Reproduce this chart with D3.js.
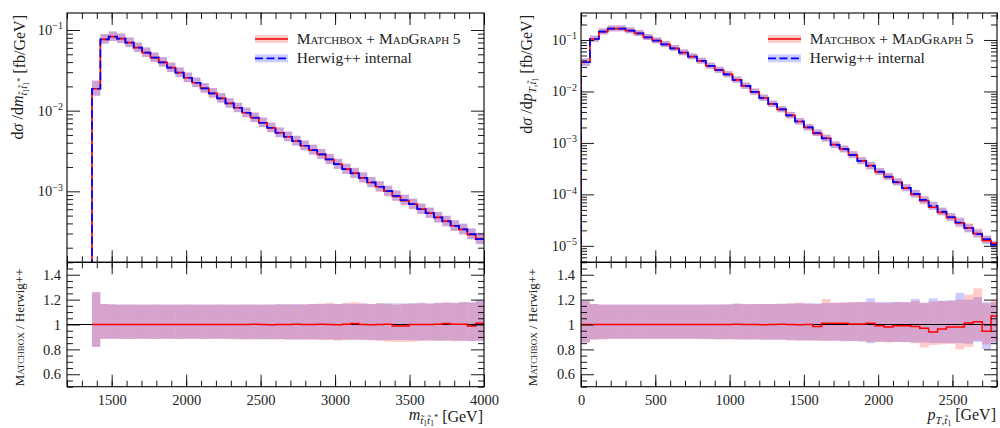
<!DOCTYPE html>
<html>
<head>
<meta charset="utf-8">
<script src="https://cdn.jsdelivr.net/npm/d3@7"></script>
<style>
body { margin: 0; background: #fff; }
text { font-family: "Liberation Serif", "DejaVu Serif", serif; fill: #222; }
</style>
</head>
<body>
<svg id="chart" width="1000" height="428"></svg>
<script>
// bin edges (GeV)
var leftEdges = [1368,1424,1480,1536,1592,1648,1704,1760,1816,1872,1928,1984,2040,2096,2152,2208,2264,2320,2376,2432,2488,2544,2600,2656,2712,2768,2824,2880,2936,2992,3048,3104,3160,3216,3272,3328,3384,3440,3496,3552,3608,3664,3720,3776,3832,3888,3944,4000];
var rightEdges = [0,60,120,180,240,300,360,420,480,540,600,660,720,780,840,900,960,1020,1080,1140,1200,1260,1320,1380,1440,1500,1560,1620,1680,1740,1800,1860,1920,1980,2040,2100,2160,2220,2280,2340,2400,2460,2520,2580,2640,2700,2760,2820];

// Herwig++ internal, dsigma/dm [fb/GeV]
var leftHerwig = [0.0187,0.0766,0.0826,0.0780,0.0696,0.0604,0.0524,0.0454,0.0397,0.0341,0.0296,0.0256,0.0222,0.0189,0.0164,0.0142,0.0123,0.01086,0.00942,0.00817,0.00708,0.00614,0.00532,0.00475,0.00420,0.00367,0.00325,0.00287,0.00249,0.00217,0.00188,0.00167,0.00147,0.00129,0.00114,0.001005,0.000879,0.000778,0.000694,0.000601,0.000537,0.000474,0.000423,0.000373,0.000337,0.000294,0.000256];
// Matchbox / Herwig++ ratio
var leftRatio = [1,1,1,1,1,1,1,1,1,1,1,1,1,1,1,1,1,1,1,1.002,1,0.998,1,1,1.002,1,1,1.003,1,0.998,1.002,1.008,1,0.997,1,1.003,0.987,0.987,1,1,1,1.002,1.008,1.003,1.003,0.987,1.01];
// uncertainty bands, in units of the Herwig++ value
var leftHwHi = [1.26,1.165,1.162,1.16,1.16,1.16,1.16,1.16,1.16,1.16,1.16,1.16,1.16,1.16,1.16,1.16,1.16,1.16,1.16,1.16,1.16,1.16,1.165,1.16,1.165,1.16,1.165,1.165,1.165,1.165,1.17,1.165,1.17,1.165,1.17,1.17,1.17,1.17,1.17,1.175,1.17,1.175,1.175,1.175,1.18,1.18,1.2];
var leftHwLo = [0.82,0.885,0.885,0.885,0.885,0.885,0.885,0.885,0.885,0.885,0.885,0.885,0.885,0.885,0.885,0.885,0.885,0.882,0.882,0.882,0.882,0.882,0.882,0.88,0.88,0.88,0.88,0.88,0.88,0.878,0.878,0.878,0.878,0.875,0.875,0.875,0.875,0.875,0.872,0.872,0.872,0.87,0.87,0.87,0.868,0.868,0.865];
var leftMgHi = [1.26,1.165,1.162,1.16,1.162,1.16,1.16,1.162,1.16,1.16,1.16,1.162,1.16,1.16,1.16,1.162,1.16,1.16,1.162,1.16,1.16,1.162,1.16,1.165,1.16,1.165,1.165,1.168,1.175,1.165,1.17,1.18,1.168,1.165,1.17,1.168,1.16,1.165,1.17,1.17,1.168,1.172,1.178,1.172,1.18,1.175,1.185];
var leftMgLo = [0.82,0.885,0.885,0.885,0.883,0.885,0.885,0.883,0.885,0.885,0.883,0.885,0.885,0.883,0.885,0.885,0.882,0.882,0.88,0.882,0.882,0.88,0.882,0.878,0.88,0.878,0.878,0.875,0.875,0.87,0.875,0.878,0.875,0.872,0.868,0.862,0.86,0.86,0.862,0.868,0.87,0.868,0.872,0.865,0.87,0.865,0.87];

// Herwig++ internal, dsigma/dpT [fb/GeV]
var rightHerwig = [0.0369,0.1045,0.1449,0.1656,0.166,0.1517,0.1349,0.1127,0.0969,0.0825,0.0690,0.0567,0.0474,0.0391,0.0313,0.0261,0.0214,0.0167,0.0128,0.00977,0.00748,0.00571,0.00447,0.00342,0.00261,0.00200,0.00156,0.00122,0.000914,0.000755,0.000585,0.000447,0.000357,0.000277,0.000222,0.000173,0.000134,0.000102,7.82e-5,5.98e-5,4.63e-5,3.61e-5,2.84e-5,2.21e-5,1.69e-5,1.35e-5,1.045e-5];
var rightRatio = [1,1,1,1,1,1,1,1,1,1,1,1,1,1,1,1,1,1.002,1,1,0.998,1,1.002,1,0.998,1,0.984,1.011,1.011,1.011,1.005,1.005,1.01,0.99,0.98,0.99,0.99,0.984,0.97,0.94,0.963,0.98,0.98,1.012,1.022,0.945,1.068];
var rightHwHi = [1.19,1.165,1.16,1.16,1.16,1.16,1.16,1.16,1.16,1.16,1.16,1.16,1.16,1.16,1.16,1.162,1.162,1.165,1.165,1.165,1.165,1.165,1.168,1.168,1.17,1.17,1.17,1.172,1.175,1.175,1.178,1.18,1.21,1.18,1.182,1.182,1.18,1.207,1.175,1.21,1.19,1.195,1.255,1.2,1.22,1.18,1.18];
var rightHwLo = [0.855,0.88,0.882,0.885,0.885,0.885,0.885,0.885,0.885,0.885,0.885,0.885,0.885,0.885,0.882,0.882,0.882,0.88,0.88,0.88,0.878,0.878,0.878,0.875,0.875,0.872,0.872,0.87,0.87,0.868,0.868,0.865,0.85,0.862,0.86,0.86,0.858,0.856,0.855,0.85,0.852,0.85,0.85,0.845,0.86,0.8,0.85];
var rightMgHi = [1.19,1.165,1.16,1.16,1.16,1.16,1.16,1.16,1.16,1.16,1.16,1.16,1.16,1.16,1.162,1.16,1.162,1.17,1.162,1.165,1.165,1.165,1.165,1.17,1.175,1.168,1.165,1.205,1.175,1.178,1.18,1.182,1.18,1.175,1.172,1.18,1.178,1.19,1.175,1.185,1.19,1.19,1.2,1.24,1.29,1.17,1.2];
var rightMgLo = [0.855,0.878,0.882,0.885,0.885,0.885,0.885,0.885,0.885,0.885,0.885,0.885,0.885,0.882,0.885,0.88,0.882,0.88,0.878,0.88,0.878,0.878,0.878,0.872,0.868,0.872,0.87,0.868,0.87,0.865,0.868,0.862,0.86,0.858,0.855,0.86,0.858,0.85,0.815,0.835,0.84,0.845,0.8,0.82,0.87,0.84,0.86];

var leftXTicks = [1500, 2000, 2500, 3000, 3500, 4000];
var rightXTicks = [0, 500, 1000, 1500, 2000, 2500];
var ratioTicks = [0.6, 0.8, 1, 1.2, 1.4];

var yTop = 13, ySplit = 262.3, yBottom = 386.7;
var svg = d3.select("#chart");

var panels = [
    {id: "l", x0: 67, x1: 484, xDomain: [1200, 4000], yDomain: [1.318e-4, 0.1625],
     edges: leftEdges, hw: leftHerwig, ratio: leftRatio,
     hwHi: leftHwHi, hwLo: leftHwLo, mgHi: leftMgHi, mgLo: leftMgLo,
     xMajor: leftXTicks, xMinor: d3.range(1200, 4001, 100),
     yLab: 22.5, rLab: 24, xVar: "m"},
    {id: "r", x0: 581, x1: 997, xDomain: [0, 2800], yDomain: [4.79e-6, 0.3344],
     edges: rightEdges, hw: rightHerwig, ratio: rightRatio,
     hwHi: rightHwHi, hwLo: rightHwLo, mgHi: rightMgHi, mgLo: rightMgLo,
     xMajor: rightXTicks, xMinor: d3.range(0, 2801, 100),
     yLab: 532, rLab: 537, xVar: "p"}
];

function sub(t, parts) {
    parts.forEach(function (p) {
        var s = t.append("tspan").text(p.t);
        if (p.i) s.attr("font-style", "italic");
        if (p.s) s.attr("font-size", p.s);
        if (p.dy) s.attr("dy", p.dy);
        if (p.sc) s.attr("font-variant", "small-caps");
    });
}

panels.forEach(function (P) {
    var x = d3.scaleLinear().domain(P.xDomain).range([P.x0, P.x1]);
    var y = d3.scaleLog().domain(P.yDomain).range([ySplit, yTop]);
    var r = d3.scaleLinear().domain([0.5, 1.5]).range([yBottom, ySplit]);
    var n = P.hw.length;
    var mg = P.hw.map(function (v, i) { return v * P.ratio[i]; });

    svg.append("clipPath").attr("id", "cm" + P.id).append("rect")
        .attr("x", P.x0).attr("y", yTop).attr("width", P.x1 - P.x0).attr("height", ySplit - yTop);
    svg.append("clipPath").attr("id", "cr" + P.id).append("rect")
        .attr("x", P.x0).attr("y", ySplit).attr("width", P.x1 - P.x0).attr("height", yBottom - ySplit);

    var gm = svg.append("g").attr("clip-path", "url(#cm" + P.id + ")");
    var gr = svg.append("g").attr("clip-path", "url(#cr" + P.id + ")");
    var idx = d3.range(n);

    // main panel error boxes: Matchbox (red) below, Herwig (blue) on top
    gm.selectAll("rect.mg").data(idx).enter().append("rect").attr("class", "mg")
        .attr("x", function (i) { return x(P.edges[i]); })
        .attr("width", function (i) { return x(P.edges[i + 1]) - x(P.edges[i]); })
        .attr("y", function (i) { return y(P.hw[i] * P.mgHi[i]); })
        .attr("height", function (i) { return y(P.hw[i] * P.mgLo[i]) - y(P.hw[i] * P.mgHi[i]); })
        .attr("fill", "#ff0000").attr("fill-opacity", 0.2);
    gm.selectAll("rect.hw").data(idx).enter().append("rect").attr("class", "hw")
        .attr("x", function (i) { return x(P.edges[i]); })
        .attr("width", function (i) { return x(P.edges[i + 1]) - x(P.edges[i]); })
        .attr("y", function (i) { return y(P.hw[i] * P.hwHi[i]); })
        .attr("height", function (i) { return y(P.hw[i] * P.hwLo[i]) - y(P.hw[i] * P.hwHi[i]); })
        .attr("fill", "#0000ff").attr("fill-opacity", 0.2);

    var step = d3.line().curve(d3.curveStepAfter);
    function pts(vals, sc, base) {
        var p = base !== undefined ? [[x(P.edges[0]), base]] : [];
        vals.forEach(function (v, i) { p.push([x(P.edges[i]), sc(v)]); });
        p.push([x(P.edges[n]), sc(vals[n - 1])]);
        return p;
    }
    gm.append("path").attr("d", step(pts(mg, y, ySplit + 5)))
        .attr("fill", "none").attr("stroke", "#ff0000").attr("stroke-width", 1.7);
    gm.append("path").attr("d", step(pts(P.hw, y, ySplit + 5)))
        .attr("fill", "none").attr("stroke", "#0000ff").attr("stroke-width", 1.7)
        .attr("stroke-dasharray", "8,3.5");

    // ratio panel: Herwig band first, Matchbox band on top
    gr.selectAll("rect.hw").data(idx).enter().append("rect").attr("class", "hw")
        .attr("x", function (i) { return x(P.edges[i]); })
        .attr("width", function (i) { return x(P.edges[i + 1]) - x(P.edges[i]); })
        .attr("y", function (i) { return r(P.hwHi[i]); })
        .attr("height", function (i) { return r(P.hwLo[i]) - r(P.hwHi[i]); })
        .attr("fill", "#0000ff").attr("fill-opacity", 0.2);
    gr.selectAll("rect.mg").data(idx).enter().append("rect").attr("class", "mg")
        .attr("x", function (i) { return x(P.edges[i]); })
        .attr("width", function (i) { return x(P.edges[i + 1]) - x(P.edges[i]); })
        .attr("y", function (i) { return r(P.mgHi[i]); })
        .attr("height", function (i) { return r(P.mgLo[i]) - r(P.mgHi[i]); })
        .attr("fill", "#ff0000").attr("fill-opacity", 0.2);
    gr.append("line").attr("x1", P.x0).attr("x2", P.x1).attr("y1", r(1)).attr("y2", r(1))
        .attr("stroke", "#000").attr("stroke-width", 1);
    gr.append("path").attr("d", step(pts(P.ratio, r)))
        .attr("fill", "none").attr("stroke", "#ff0000").attr("stroke-width", 1.5);

    // axes (ticks pointing inward)
    function tickStyle(g) {
        g.select(".domain").remove();
        g.selectAll(".tick line").attr("stroke", "#000").attr("stroke-width", 0.9);
        g.selectAll("text").attr("font-family", "Liberation Serif, serif").attr("font-size", 14.5).attr("fill", "#222");
    }
    [[ySplit, d3.axisTop], [yTop, d3.axisTop], [ySplit, d3.axisBottom], [yBottom, d3.axisBottom]].forEach(function (a, k) {
        var big = a[1](x).tickValues(P.xMajor).tickSize(-12).tickFormat(k === 3 ? d3.format("d") : "").tickPadding(8);
        var small = a[1](x).tickValues(P.xMinor).tickSize(-6).tickFormat("");
        svg.append("g").attr("transform", "translate(0," + a[0] + ")").call(small).call(tickStyle);
        svg.append("g").attr("transform", "translate(0," + a[0] + ")").call(big).call(tickStyle);
    });

    var yMajor = y.ticks().filter(function (d) { return Math.abs(Math.log10(d) - Math.round(Math.log10(d))) < 1e-6; });
    var yMinor = y.ticks().filter(function (d) { return yMajor.indexOf(d) < 0; });
    var ylg = svg.append("g").attr("transform", "translate(" + P.x0 + ",0)")
        .call(d3.axisLeft(y).tickValues(yMajor).tickSize(-13).tickPadding(4)
            .tickFormat(function (d) { return Math.round(Math.log10(d)); }))
        .call(tickStyle);
    ylg.selectAll(".tick text").each(function (d) {
        var t = d3.select(this).text(null).attr("dy", "0.3em");
        t.append("tspan").text("10");
        t.append("tspan").text("\u2212" + (-Math.round(Math.log10(d)))).attr("font-size", 10).attr("dy", "-0.55em");
    });
    svg.append("g").attr("transform", "translate(" + P.x0 + ",0)")
        .call(d3.axisLeft(y).tickValues(yMinor).tickSize(-6).tickFormat("")).call(tickStyle);
    svg.append("g").attr("transform", "translate(" + P.x1 + ",0)")
        .call(d3.axisRight(y).tickValues(yMajor).tickSize(-13).tickFormat("")).call(tickStyle);
    svg.append("g").attr("transform", "translate(" + P.x1 + ",0)")
        .call(d3.axisRight(y).tickValues(yMinor).tickSize(-6).tickFormat("")).call(tickStyle);

    var rMinor = d3.range(0.5, 1.501, 0.05).filter(function (d) { return ratioTicks.every(function (m) { return Math.abs(m - d) > 1e-6; }); });
    svg.append("g").attr("transform", "translate(" + P.x0 + ",0)")
        .call(d3.axisLeft(r).tickValues(ratioTicks).tickSize(-13).tickPadding(6).tickFormat(d3.format("")))
        .call(tickStyle);
    svg.append("g").attr("transform", "translate(" + P.x0 + ",0)")
        .call(d3.axisLeft(r).tickValues(rMinor).tickSize(-6).tickFormat("")).call(tickStyle);
    svg.append("g").attr("transform", "translate(" + P.x1 + ",0)")
        .call(d3.axisRight(r).tickValues(ratioTicks).tickSize(-13).tickFormat("")).call(tickStyle);
    svg.append("g").attr("transform", "translate(" + P.x1 + ",0)")
        .call(d3.axisRight(r).tickValues(rMinor).tickSize(-6).tickFormat("")).call(tickStyle);

    // frames
    svg.append("rect").attr("x", P.x0).attr("y", yTop).attr("width", P.x1 - P.x0).attr("height", ySplit - yTop)
        .attr("fill", "none").attr("stroke", "#000").attr("stroke-width", 1.1);
    svg.append("rect").attr("x", P.x0).attr("y", ySplit).attr("width", P.x1 - P.x0).attr("height", yBottom - ySplit)
        .attr("fill", "none").attr("stroke", "#000").attr("stroke-width", 1.1);

    // legend
    var lx = P.x1 - 229, tx = P.x1 - 187.3;
    svg.append("rect").attr("x", lx).attr("y", 35).attr("width", 33).attr("height", 8)
        .attr("fill", "#ff0000").attr("fill-opacity", 0.2);
    svg.append("line").attr("x1", lx).attr("x2", lx + 33).attr("y1", 39).attr("y2", 39)
        .attr("stroke", "#ff0000").attr("stroke-width", 1.7);
    svg.append("rect").attr("x", lx).attr("y", 54.3).attr("width", 33).attr("height", 8)
        .attr("fill", "#0000ff").attr("fill-opacity", 0.2);
    svg.append("line").attr("x1", lx).attr("x2", lx + 33).attr("y1", 58.3).attr("y2", 58.3)
        .attr("stroke", "#0000ff").attr("stroke-width", 1.7).attr("stroke-dasharray", "8,3.5");
    var l1 = svg.append("text").attr("x", tx).attr("y", 43.5).attr("font-size", 15.5);
    sub(l1, [{t: "Matchbox + MadGraph", sc: true}]);
    svg.append("text").attr("x", tx + 156).attr("y", 44).attr("font-size", 15.5).text("5");
    svg.append("text").attr("x", tx).attr("y", 62.5).attr("font-size", 15.5).text("Herwig++ internal");

    // axis titles
    var yl = svg.append("text").attr("transform", "translate(" + P.yLab + "," + 15 + ") rotate(-90)")
        .attr("text-anchor", "end").attr("font-size", 16);
    var xl = svg.append("text").attr("x", P.x1 - 1).attr("y", 420).attr("text-anchor", "end").attr("font-size", 16);
    if (P.xVar === "m") {
        sub(yl, [{t: "d"}, {t: "\u03c3", i: true}, {t: " /d"}, {t: "m", i: true},
            {t: "t\u0303", i: true, s: 11, dy: 4}, {t: "1", s: 7.5, dy: 2}, {t: "t\u0303", i: true, s: 11, dy: -2},
            {t: "1", s: 7.5, dy: 2}, {t: "*", s: 8.5, dy: -6}, {t: " [fb/GeV]", dy: 2}]);
        sub(xl, [{t: "m", i: true},
            {t: "t\u0303", i: true, s: 11, dy: 4}, {t: "1", s: 7.5, dy: 2}, {t: "t\u0303", i: true, s: 11, dy: -2},
            {t: "1", s: 7.5, dy: 2}, {t: "*", s: 8.5, dy: -6}, {t: " [GeV]", dy: 2}]);
    } else {
        sub(yl, [{t: "d"}, {t: "\u03c3", i: true}, {t: " /d"}, {t: "p", i: true},
            {t: "T", i: true, s: 11, dy: 4}, {t: ",", s: 11}, {t: "t\u0303", i: true, s: 11},
            {t: "1", s: 7.5, dy: 2}, {t: " [fb/GeV]", dy: -6}]);
        sub(xl, [{t: "p", i: true},
            {t: "T", i: true, s: 11, dy: 4}, {t: ",", s: 11}, {t: "t\u0303", i: true, s: 11},
            {t: "1", s: 7.5, dy: 2}, {t: " [GeV]", dy: -6}]);
    }
    var rl = svg.append("text").attr("transform", "translate(" + P.rLab + "," + 268.5 + ") rotate(-90)")
        .attr("text-anchor", "end").attr("font-size", 13);
    sub(rl, [{t: "Matchbox", sc: true}, {t: " / Herwig++"}]);
});
</script>
</body>
</html>
